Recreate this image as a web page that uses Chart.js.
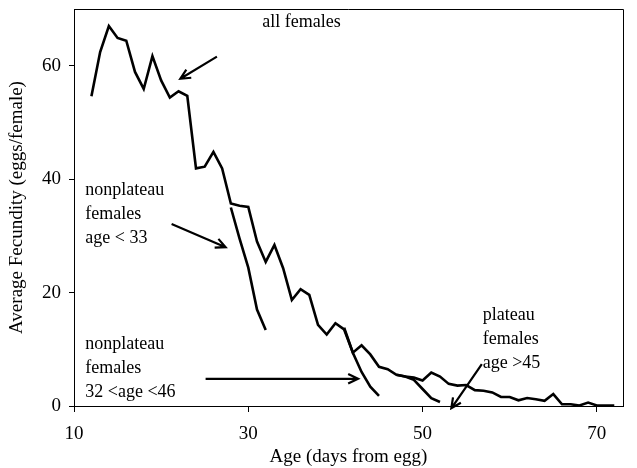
<!DOCTYPE html>
<html lang="en">

<head>
    <meta charset="UTF-8">
    <title>Average Fecundity by Age</title>
    <script src="https://cdn.jsdelivr.net/npm/chart.js"></script>
    <style>
        html, body { margin: 0; padding: 0; background: #fff; }
        #wrap { width: 637px; height: 468px; }
    </style>
</head>

<body>
    <div id="wrap">
        <canvas id="fecundityChart"></canvas>
    </div>

    <script>
        // age in days from egg, one entry per day for the whole cohort
        const ages = [];
        for (let d = 12; d <= 72; d++) ages.push(d);

        const allFemales = [
            54.6, 62.4, 67.0, 64.9, 64.4, 58.9, 55.9, 61.7, 57.4, 54.4,
            55.5, 54.7, 41.9, 42.2, 44.8, 41.9, 35.7, 35.3, 35.1, 29.0,
            25.4, 28.4, 24.3, 18.7, 20.6, 19.6, 14.3, 12.6, 14.6, 13.5,
            9.4, 10.7, 9.1, 6.9, 6.5, 5.5, 5.2, 5.0, 4.5, 5.9,
            5.2, 3.9, 3.6, 3.7, 2.8, 2.7, 2.4, 1.6, 1.6, 1.0,
            1.4, 1.2, 0.9, 2.1, 0.3, 0.3, 0.1, 0.6, 0.1, 0.1, 0.1
        ];

        const earlyAges = [28, 29, 30, 31, 32];
        const earlyNonplateau = [35.0, 29.5, 24.4, 17.0, 13.4];

        const midAges = [41, 42, 43, 44, 45];
        const midNonplateau = [13.8, 9.4, 6.0, 3.4, 1.8];

        const plateauAges = [47, 48, 49, 50, 51, 52];
        const plateauFemales = [5.5, 5.2, 4.6, 3.0, 1.4, 0.7];

        const xTicks = [10, 30, 50, 70];
        const yTicks = [0, 20, 40, 60];

        const serif = '"Liberation Serif", "DejaVu Serif", serif';

        // text labels and arrows, positioned in data units
        const notes = [
            { lines: ['all females'], x: 31.6, y: 67.7, arrow: [26.4, 61.6, 22.2, 57.7] },
            { lines: ['nonplateau', 'females', 'age < 33'], x: 11.3, y: 38.1, arrow: [21.2, 32.1, 27.4, 28.0] },
            { lines: ['nonplateau', 'females', '32 <age <46'], x: 11.3, y: 10.9, arrow: [25.1, 4.8, 42.6, 4.8] },
            { lines: ['plateau', 'females', 'age >45'], x: 56.9, y: 16.0, arrow: [56.8, 7.4, 53.3, -0.4] }
        ];

        const toPoints = (xs, ys) => xs.map((x, i) => ({ x: x, y: ys[i] }));

        const lineStyle = {
            borderColor: '#000',
            borderWidth: 2.6,
            pointRadius: 0,
            tension: 0,
            fill: false
        };

        const notesPlugin = {
            id: 'notes',
            afterDatasetsDraw(chart) {
                const { ctx, chartArea, scales } = chart;
                const sx = scales.x, sy = scales.y;
                ctx.save();

                // frame around the plot area
                ctx.strokeStyle = '#000';
                ctx.lineWidth = 1;
                ctx.beginPath();
                ctx.moveTo(chartArea.left, chartArea.top + 0.5);
                ctx.lineTo(chartArea.right + 0.5, chartArea.top + 0.5);
                ctx.lineTo(chartArea.right + 0.5, chartArea.bottom);
                ctx.stroke();

                ctx.fillStyle = '#000';
                ctx.font = '18px ' + serif;
                ctx.textAlign = 'left';
                ctx.textBaseline = 'middle';
                notes.forEach(n => {
                    const px = sx.getPixelForValue(n.x);
                    const py = sy.getPixelForValue(n.y);
                    n.lines.forEach((t, i) => ctx.fillText(t, px, py + i * 24));

                    const x1 = sx.getPixelForValue(n.arrow[0]);
                    const y1 = sy.getPixelForValue(n.arrow[1]);
                    const x2 = sx.getPixelForValue(n.arrow[2]);
                    const y2 = sy.getPixelForValue(n.arrow[3]);
                    const ang = Math.atan2(y2 - y1, x2 - x1);
                    const head = 11;
                    ctx.lineWidth = 2.2;
                    ctx.beginPath();
                    ctx.moveTo(x1, y1);
                    ctx.lineTo(x2, y2);
                    ctx.moveTo(x2 - head * Math.cos(ang - 0.45), y2 - head * Math.sin(ang - 0.45));
                    ctx.lineTo(x2, y2);
                    ctx.lineTo(x2 - head * Math.cos(ang + 0.45), y2 - head * Math.sin(ang + 0.45));
                    ctx.stroke();
                });
                ctx.restore();
            }
        };

        const ctx = document.getElementById('fecundityChart').getContext('2d');

        const fecundityChart = new Chart(ctx, {
            type: 'line',
            data: {
                datasets: [
                    Object.assign({ label: 'all females', data: toPoints(ages, allFemales) }, lineStyle),
                    Object.assign({ label: 'nonplateau age < 33', data: toPoints(earlyAges, earlyNonplateau) }, lineStyle),
                    Object.assign({ label: 'nonplateau 32 < age < 46', data: toPoints(midAges, midNonplateau) }, lineStyle),
                    Object.assign({ label: 'plateau age > 45', data: toPoints(plateauAges, plateauFemales) }, lineStyle)
                ]
            },
            options: {
                responsive: true,
                maintainAspectRatio: false,
                animation: false,
                layout: { padding: { top: 9, right: 14, left: 0, bottom: 0 } },
                plugins: {
                    legend: { display: false },
                    tooltip: { enabled: false }
                },
                scales: {
                    x: {
                        type: 'linear',
                        min: 10,
                        max: 73,
                        afterBuildTicks: s => { s.ticks = xTicks.map(v => ({ value: v })); },
                        afterFit: s => { s.height = 62; },
                        grid: { drawOnChartArea: false, color: '#000', tickLength: 6 },
                        border: { color: '#000', width: 1 },
                        ticks: { color: '#000', font: { family: serif, size: 19 }, padding: 11, maxRotation: 0 },
                        title: {
                            display: true,
                            text: 'Age (days from egg)',
                            color: '#000',
                            font: { family: serif, size: 19 },
                            padding: { top: 0, bottom: 0 }
                        }
                    },
                    y: {
                        min: 0,
                        max: 70,
                        afterBuildTicks: s => { s.ticks = yTicks.map(v => ({ value: v })); },
                        // fixed width; the top label sits well inside the axis so no extra headroom
                        afterFit: s => { s.width = 74; s.paddingTop = 0; s.paddingBottom = 0; },
                        grid: { drawOnChartArea: false, color: '#000', tickLength: 5 },
                        border: { color: '#000', width: 1 },
                        ticks: { color: '#000', font: { family: serif, size: 19 }, padding: 8 },
                        title: {
                            display: true,
                            text: 'Average Fecundity (eggs/female)',
                            color: '#000',
                            font: { family: serif, size: 19 },
                            padding: { top: 6, bottom: 4 }
                        }
                    }
                }
            },
            plugins: [notesPlugin]
        });
    </script>

</body>

</html>
